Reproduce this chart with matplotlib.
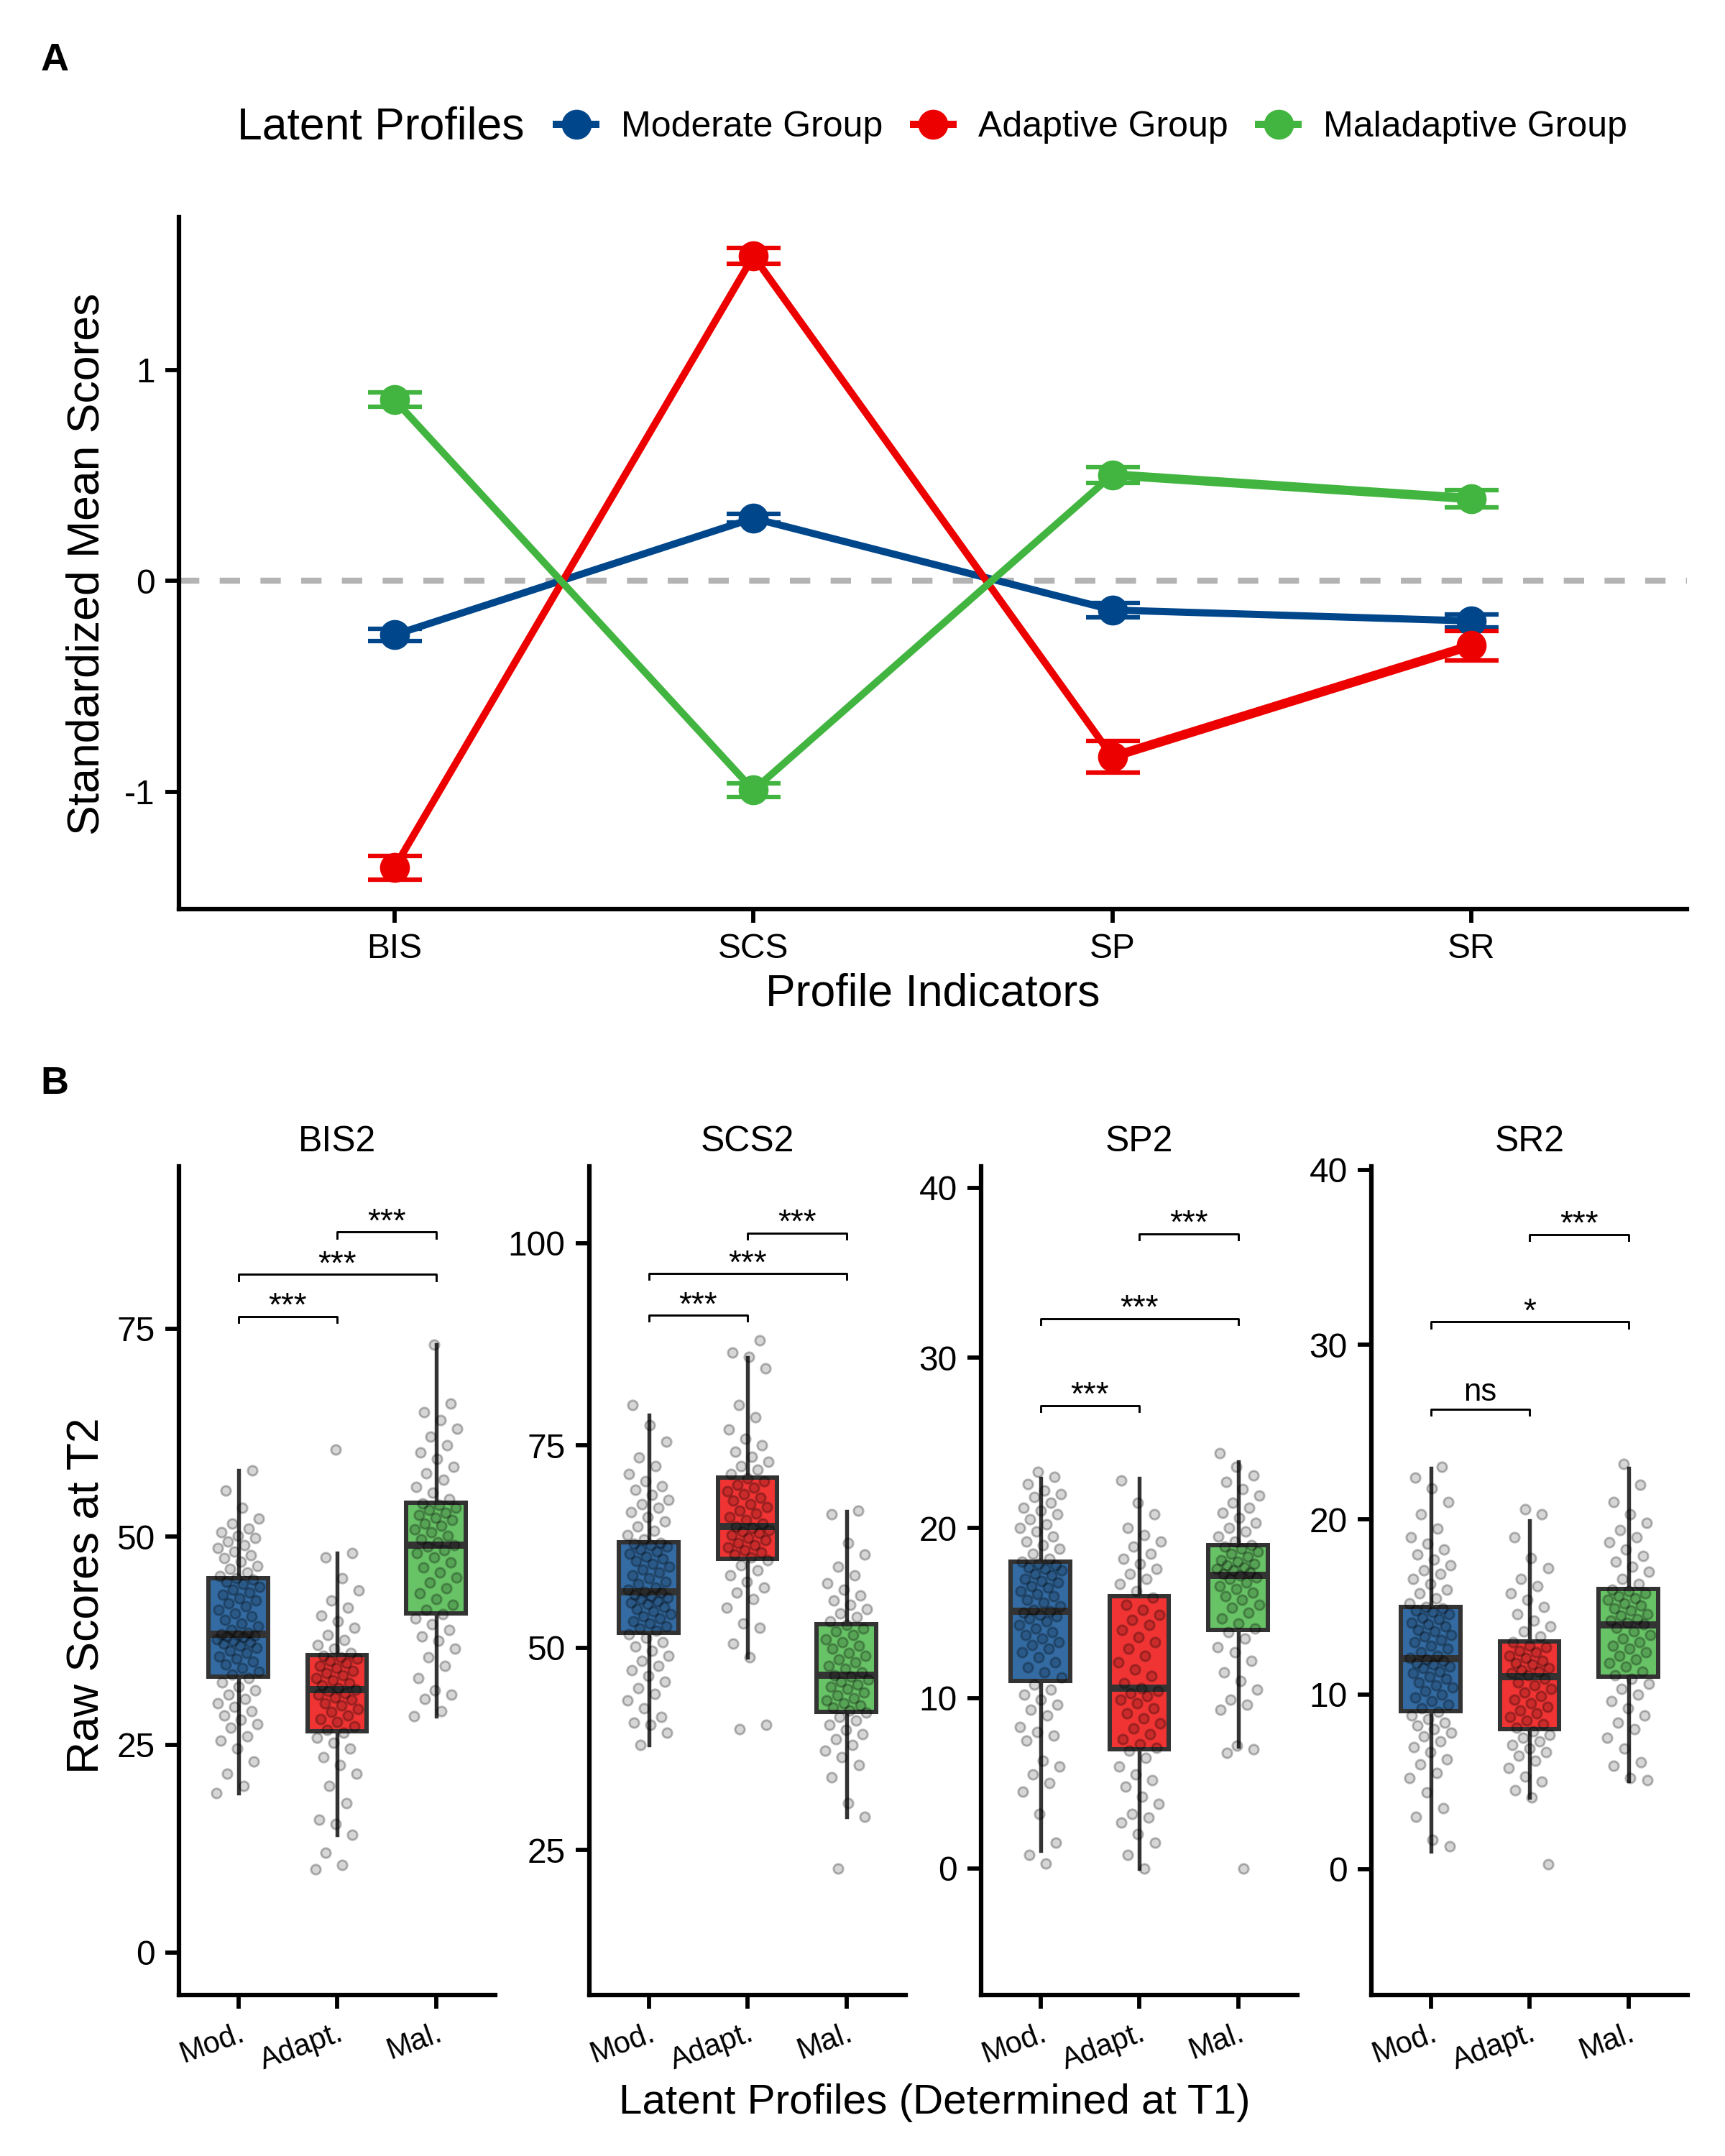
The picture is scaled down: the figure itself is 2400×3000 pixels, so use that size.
import matplotlib
matplotlib.use("Agg")
import matplotlib.pyplot as plt
from matplotlib.lines import Line2D
import numpy as np

plt.rcParams['font.family'] = ['Liberation Sans', 'DejaVu Sans']
plt.rcParams['axes.unicode_minus'] = False

# ---------------- panel A: standardized profile means ----------------
indicators = ["BIS", "SCS", "SP", "SR"]
profiles = ["Moderate Group", "Adaptive Group", "Maladaptive Group"]
profile_colors = ["#00468B", "#ED0000", "#42B540"]

mean_moderate = [-0.256, 0.297, -0.138, -0.19]
mean_adaptive = [-1.36, 1.54, -0.834, -0.306]
mean_maladaptive = [0.859, -0.992, 0.503, 0.39]
se_moderate = [0.03, 0.02, 0.035, 0.03]
se_adaptive = [0.055, 0.038, 0.075, 0.07]
se_maladaptive = [0.035, 0.033, 0.037, 0.04]

# ---------------- panel B: raw scores at T2 ----------------
facets = ["BIS2", "SCS2", "SP2", "SR2"]
groups = ["Mod.", "Adapt.", "Mal."]

bis2_mod = [19.2, 20, 21.5, 23, 24.5, 25.5, 26, 27, 27.5, 28, 28.5, 29, 29.5, 30, 30.5, 31, 31.5, 32, 32.5, 33,
            33.4, 33.8, 34.2, 34.6, 35, 35.3, 35.6, 36, 36.3, 36.6, 36.9, 37.1, 37.3, 37.5, 37.7, 37.9, 38, 38.1, 38.2, 38.3,
            38.4, 38.8, 39.2, 39.6, 40, 40.4, 40.8, 41.2, 41.6, 42, 42.3, 42.6, 43, 43.3, 43.6, 44, 44.3, 44.6, 44.8, 45,
            45.3, 45.7, 46.1, 46.5, 47, 47.4, 47.8, 48.2, 48.6, 49, 49.4, 49.8, 50.1, 50.5, 51, 51.6, 52.2, 53.5, 55.5, 58]
bis2_adapt = [10, 10.5, 12, 14.2, 15.5, 16, 18, 20, 21.5, 22.5, 23.5, 24.5, 25.2, 25.8, 26.4,
              26.8, 27.2, 27.7, 28.1, 28.5, 28.9, 29.3, 29.7, 30, 30.4, 30.7, 31, 31.2, 31.4, 31.6,
              31.8, 32.1, 32.4, 32.7, 33, 33.3, 33.6, 33.9, 34.2, 34.5, 34.8, 35.1, 35.3, 35.5, 35.7,
              36, 36.5, 37, 37.6, 38.2, 39, 39.8, 40.5, 41.5, 42.3, 43.5, 45, 47.5, 48, 60.5]
bis2_mal = [28.4, 29, 30.5, 31, 31.5, 33, 34.5, 35.5, 36.5, 37.5, 38, 38.8, 39.5, 40.2, 40.7,
            41.2, 41.8, 42.5, 43.2, 43.8, 44.5, 45.1, 45.7, 46.3, 46.9, 47.5, 48, 48.4, 48.8, 49,
            49.3, 49.7, 50.1, 50.5, 50.9, 51.3, 51.6, 52, 52.3, 52.6, 52.9, 53.2, 53.5, 53.8, 54,
            54.5, 55.3, 56, 56.8, 57.6, 58.4, 59.3, 60.1, 61, 62, 63, 64, 65, 66, 73.1]

scs2_mod = [38, 39.5, 40.5, 40.8, 41.5, 42.5, 43.5, 44.3, 45, 45.8, 46.5, 47.2, 47.8, 48.4, 49, 49.6, 50.2, 50.7, 51.2, 51.7,
            52.1, 52.4, 52.7, 53, 53.3, 53.6, 53.9, 54.2, 54.5, 54.8, 55.1, 55.4, 55.6, 55.8, 56, 56.2, 56.4, 56.6, 56.8, 56.9,
            57.2, 57.5, 57.9, 58.2, 58.6, 59, 59.3, 59.7, 60, 60.4, 60.7, 61, 61.3, 61.6, 61.9, 62.2, 62.5, 62.7, 62.9, 63,
            63.4, 63.9, 64.5, 65, 65.6, 66.2, 66.8, 67.3, 67.8, 68.3, 68.9, 69.5, 70, 70.6, 71.5, 72.5, 73.5, 75.5, 77.5, 80]
scs2_adapt = [40, 40.5, 48.8, 50.5, 52.5, 53, 55, 56, 56.8, 57.5, 58.2, 59, 59.6, 60.2, 60.8,
              61.2, 61.5, 61.8, 62.1, 62.4, 62.7, 63, 63.3, 63.6, 63.9, 64.2, 64.4, 64.6, 64.8, 65,
              65.4, 65.8, 66.2, 66.6, 67, 67.4, 67.8, 68.2, 68.6, 69, 69.4, 69.8, 70.2, 70.6, 71,
              71.5, 72, 72.5, 73, 73.6, 74.2, 75, 75.8, 77, 78.5, 80, 84.5, 86, 86.5, 88]
scs2_mal = [22.7, 29.1, 30.8, 34, 35.5, 36.5, 37.3, 38, 38.7, 39.3, 39.9, 40.5, 41, 41.5, 42,
            42.3, 42.6, 42.9, 43.2, 43.5, 43.8, 44.1, 44.5, 44.9, 45.2, 45.5, 45.8, 46.1, 46.4, 46.6,
            47, 47.4, 47.8, 48.2, 48.6, 49, 49.4, 49.9, 50.3, 50.7, 51.1, 51.6, 52, 52.4, 52.8,
            53.3, 53.8, 54.3, 54.8, 55.3, 55.9, 56.5, 57.2, 58, 59, 60, 61.5, 63, 66.5, 67]

sp2_mod = [0.3, 0.8, 1.5, 3.2, 4.5, 5, 5.5, 6, 6.3, 7.5, 7.8, 8, 8.3, 9, 9.3, 9.6, 9.9, 10.2, 10.5, 10.8,
           11.2, 11.5, 11.8, 12.1, 12.4, 12.7, 12.9, 13.1, 13.3, 13.5, 13.7, 13.9, 14.1, 14.3, 14.5, 14.7, 14.8, 14.9, 15, 15.1,
           15.2, 15.4, 15.6, 15.8, 16, 16.1, 16.3, 16.5, 16.6, 16.8, 16.9, 17, 17.2, 17.3, 17.5, 17.6, 17.7, 17.8, 17.9, 18,
           18.2, 18.5, 18.8, 19, 19.2, 19.5, 19.8, 20, 20.2, 20.5, 20.8, 21, 21.2, 21.5, 21.8, 22, 22.2, 22.6, 23, 23.3]
sp2_adapt = [0, 0.8, 1.5, 2, 2.7, 3, 3.2, 3.8, 4.2, 4.8, 5.2, 5.5, 6, 6.5, 6.9,
             7.1, 7.3, 7.6, 7.9, 8.2, 8.5, 8.8, 9.1, 9.4, 9.7, 9.9, 10.1, 10.3, 10.4, 10.6,
             10.9, 11.3, 11.7, 12.1, 12.5, 12.9, 13.3, 13.6, 14, 14.3, 14.6, 14.9, 15.2, 15.5, 15.9,
             16.3, 16.7, 17, 17.3, 17.6, 17.9, 18.2, 18.5, 18.9, 19.2, 19.6, 20, 20.8, 21.5, 22.8]
sp2_mal = [0, 6.8, 7, 7.2, 9.3, 9.6, 9.9, 10.5, 11, 11.5, 12.2, 12.7, 13, 13.5, 13.9,
           14.1, 14.4, 14.7, 15, 15.3, 15.5, 15.8, 16, 16.2, 16.4, 16.6, 16.8, 17, 17.1, 17.2,
           17.3, 17.4, 17.5, 17.6, 17.7, 17.8, 17.9, 18, 18.1, 18.3, 18.5, 18.6, 18.8, 18.9, 19,
           19.2, 19.5, 19.8, 20, 20.3, 20.6, 20.9, 21.2, 21.5, 21.9, 22.3, 22.7, 23.1, 23.6, 24.4]

sr2_mod = [1.3, 1.7, 3, 3.5, 4.4, 5.2, 5.5, 6, 6.3, 6.7, 7, 7.3, 7.6, 7.8, 8, 8.2, 8.4, 8.6, 8.8, 9,
           9.2, 9.4, 9.6, 9.8, 10, 10.2, 10.4, 10.5, 10.7, 10.9, 11, 11.2, 11.3, 11.5, 11.6, 11.7, 11.8, 11.9, 12, 12.1,
           12.2, 12.4, 12.6, 12.8, 13, 13.1, 13.3, 13.4, 13.6, 13.7, 13.9, 14, 14.1, 14.3, 14.4, 14.6, 14.7, 14.8, 14.9, 15,
           15.2, 15.5, 15.8, 16, 16.3, 16.6, 16.9, 17.1, 17.4, 17.7, 18, 18.3, 18.6, 19, 19.5, 20.3, 21, 21.8, 22.4, 23]
sr2_adapt = [0.3, 4.1, 4.5, 5, 5.3, 5.8, 6.2, 6.5, 6.7, 6.9, 7.1, 7.3, 7.5, 7.7, 7.9,
             8.1, 8.3, 8.5, 8.7, 8.9, 9.1, 9.3, 9.5, 9.7, 9.9, 10.1, 10.3, 10.5, 10.7, 10.9,
             11.1, 11.2, 11.3, 11.4, 11.5, 11.7, 11.8, 11.9, 12.1, 12.2, 12.4, 12.5, 12.7, 12.8, 13,
             13.3, 13.6, 13.9, 14.2, 14.6, 15, 15.4, 15.8, 16.2, 16.6, 17.2, 17.8, 19, 20.3, 20.6]
sr2_mal = [5.1, 5.2, 5.9, 6.1, 6.9, 7.5, 8, 8.4, 8.8, 9.2, 9.6, 10, 10.3, 10.6, 10.9,
           11.1, 11.3, 11.6, 11.8, 12, 12.2, 12.4, 12.6, 12.8, 13, 13.2, 13.4, 13.6, 13.8, 14,
           14.1, 14.2, 14.3, 14.5, 14.6, 14.8, 14.9, 15.1, 15.2, 15.4, 15.5, 15.6, 15.8, 15.9, 16,
           16.3, 16.6, 17, 17.3, 17.6, 17.9, 18.3, 18.7, 19, 19.4, 19.8, 20.3, 21, 22, 23.2]

# box statistics (q1, median, q3, lower / upper whisker)
box_q1 = [[33.2, 26.6, 40.8], [51.9, 61.0, 42.05], [11.0, 7.0, 14.0], [9.04, 8.0, 11.0]]
box_med = [[38.3, 31.6, 49.0], [56.9, 65.0, 46.6], [15.1, 10.57, 17.2], [12.04, 11.0, 13.98]]
box_q3 = [[45.0, 35.75, 54.06], [63.04, 71.06, 52.9], [18.02, 16.0, 19.0], [15.0, 13.03, 16.03]]
box_lo = [[19.2, 14.2, 28.4], [38.0, 48.8, 29.1], [1.05, 0.0, 7.18], [1.03, 4.1, 5.05]]
box_hi = [[58.0, 48.0, 73.1], [78.8, 85.9, 66.9], [22.9, 22.9, 23.9], [22.95, 19.95, 22.95]]

# significance brackets: (group a, group b), bracket height, label
sig_pairs = [(0, 1), (0, 2), (1, 2)]
sig_y = [[76.45, 81.5, 86.6], [91.1, 96.24, 101.25], [27.2, 32.3, 37.3], [26.3, 31.3, 36.3]]
sig_labels = [["***", "***", "***"], ["***", "***", "***"], ["***", "***", "***"], ["ns", "*", "***"]]

facet_ylim = [(-5.1, 94.5), (7.1, 109.5), (-7.45, 41.25), (-7.2, 40.2)]
facet_yticks = [[0, 25, 50, 75], [25, 50, 75, 100], [0, 10, 20, 30, 40], [0, 10, 20, 30, 40]]

raw_points = [[bis2_mod, bis2_adapt, bis2_mal],
              [scs2_mod, scs2_adapt, scs2_mal],
              [sp2_mod, sp2_adapt, sp2_mal],
              [sr2_mod, sr2_adapt, sr2_mal]]

W, H = 2400, 3000
fig = plt.figure(figsize=(8, 10), dpi=300)

def px_axes(left, top, right, bottom):
    return fig.add_axes([left / W, 1 - bottom / H, (right - left) / W, (bottom - top) / H])

def style_axis(ax):
    for side in ("top", "right"):
        ax.spines[side].set_visible(False)
    for side in ("left", "bottom"):
        ax.spines[side].set_linewidth(1.5)
    ax.tick_params(length=4.5, width=1.4, labelsize=11.5, pad=3.5, color="black")

# ---------- panel A ----------
axA = px_axes(249, 302, 2347, 1265)
style_axis(axA)
axA.axhline(0, color="#B3B3B3", lw=2.0, ls=(0, (3.4, 3.4)), zorder=1)
means = [mean_moderate, mean_adaptive, mean_maladaptive]
ses = [se_moderate, se_adaptive, se_maladaptive]
for i, (m, s, c, lab) in enumerate(zip(means, ses, profile_colors, profiles)):
    axA.plot(indicators, m, color=c, lw=2.4, zorder=2)
    if i > 0:
        # the SP-SR segment is drawn heavier in the original figure
        axA.plot(indicators[2:], m[2:], color=c, lw=3.1, zorder=2)
    axA.errorbar(indicators, m, yerr=s, fmt="o", color=c, ms=9, elinewidth=1.5,
                 capsize=9, capthick=1.5, zorder=3, label=lab)
axA.set_xlim(-0.6, 3.6)
axA.set_ylim(-1.556, 1.725)
axA.set_yticks([-1, 0, 1])
axA.set_xlabel("Profile Indicators", fontsize=15)
axA.xaxis.set_label_coords(0.5, -0.092)

fig.text(121 / W, 1 - 785 / H, "Standardized Mean Scores", rotation=90, fontsize=15,
         ha="center", va="center")
fig.text(76 / W, 1 - 84 / H, "A", fontsize=13, fontweight="bold", ha="center", va="center")

handles = [Line2D([], [], color=c, lw=2.4, marker="o", ms=9) for c in profile_colors]
fig.text(330 / W, 1 - 177 / H, "Latent Profiles", fontsize=15, ha="left", va="center")
fig.legend(handles, profiles, loc="center left", bbox_to_anchor=(774 / W, 1 - 177 / H),
           ncol=3, frameon=False, fontsize=12, handlelength=1.1, handletextpad=0.7,
           columnspacing=0.85, borderpad=0, borderaxespad=0)

# ---------- panel B ----------
fills = profile_colors
lefts = [249, 820, 1365, 1908]
positions = np.arange(len(groups))
for k, facet in enumerate(facets):
    ax = px_axes(lefts[k], 1623, lefts[k] + 440, 2776)
    style_axis(ax)
    stats = [dict(q1=box_q1[k][g], med=box_med[k][g], q3=box_q3[k][g],
                  whislo=box_lo[k][g], whishi=box_hi[k][g], fliers=[]) for g in range(3)]
    bp = ax.bxp(stats, positions=positions, widths=0.6, patch_artist=True, showcaps=False,
                showfliers=False,
                boxprops=dict(edgecolor="#333333", linewidth=1.45),
                whiskerprops=dict(color="#333333", linewidth=1.3),
                medianprops=dict(color="#333333", linewidth=2.4))
    for patch, c in zip(bp["boxes"], fills):
        patch.set_facecolor(matplotlib.colors.to_rgba(c, 0.8))
    for g in range(3):
        vals = np.asarray(raw_points[k][g])
        offs = ((np.arange(len(vals)) * 0.618034 + 0.31 * k) % 1 - 0.5) * 0.44
        ax.plot(positions[g] + offs, vals, "o", ms=3.2, mfc=(0, 0, 0, 0.16),
                mec=(0, 0, 0, 0.28), mew=0.7, zorder=4)
    lo, hi = facet_ylim[k]
    tip = 0.007 * (hi - lo)
    for (a, b), y, lab in zip(sig_pairs, sig_y[k], sig_labels[k]):
        ax.plot([a, a, b, b], [y - tip, y, y, y - tip], color="black", lw=0.7, zorder=5)
        lift = 0.2 if "*" in lab else 2.8
        ax.annotate(lab, xy=((a + b) / 2, y), xytext=(0, lift), textcoords="offset points",
                    ha="center", va="baseline", fontsize=11 if "*" in lab else 10.5)
    ax.set_xlim(-0.6, 2.6)
    ax.set_ylim(lo, hi)
    ax.set_yticks(facet_yticks[k])
    ax.set_xticks(positions)
    ax.set_xticklabels(groups, rotation=20, ha="right", rotation_mode="anchor", fontsize=10)
    ax.set_title(facet, fontsize=12, pad=5)

fig.text(121 / W, 1 - 2220 / H, "Raw Scores at T2", rotation=90, fontsize=15,
         ha="center", va="center")
fig.text(1300 / W, 1 - 2926 / H, "Latent Profiles (Determined at T1)", fontsize=14,
         ha="center", va="center")
fig.text(76 / W, 1 - 1508 / H, "B", fontsize=13, fontweight="bold", ha="center", va="center")

fig.savefig("out.png", dpi=300)
